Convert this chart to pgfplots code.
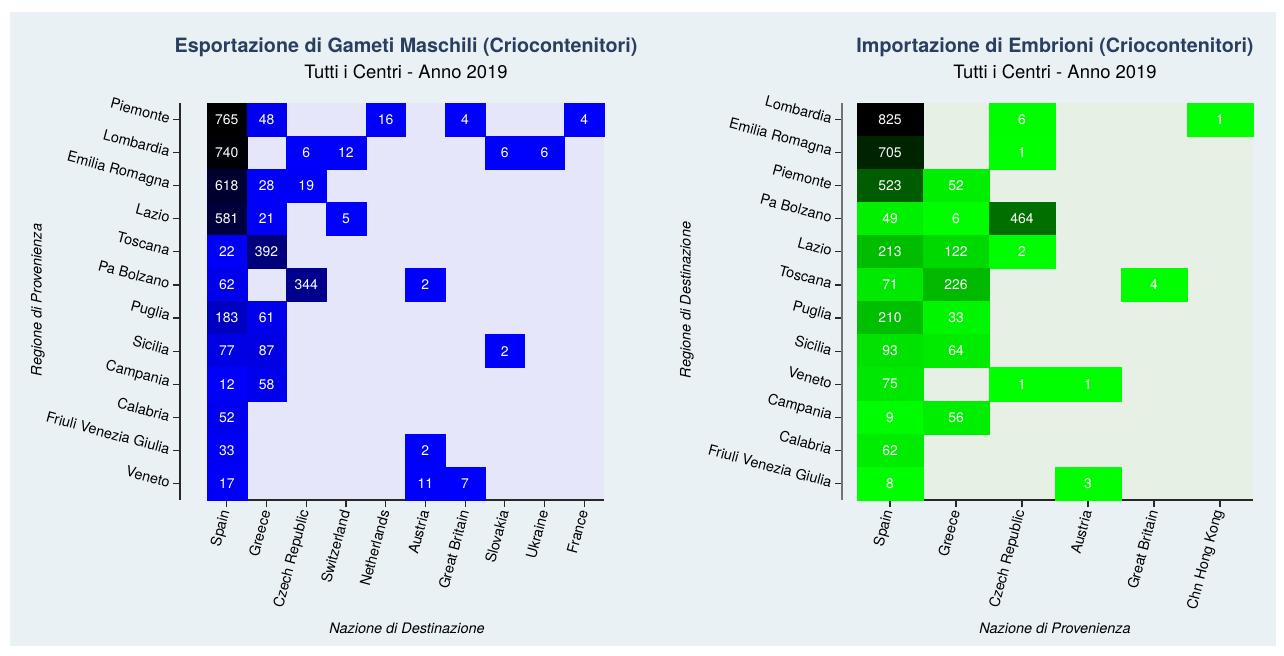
\documentclass[border=0pt]{standalone}
\usepackage{pgfplots}
\pgfplotsset{compat=1.18}
\usepackage{pgfplotstable}
\usepackage{fontspec}
\setmainfont{TeX Gyre Heros}

\definecolor{panelbg}{RGB}{234,241,244}
\definecolor{titlecol}{RGB}{42,63,95}
\definecolor{lavcell}{RGB}{230,230,250}
\definecolor{grncell}{RGB}{231,240,228}
\definecolor{spine}{RGB}{40,40,40}

\pgfplotsset{
  colormap={bluek}{rgb255(0cm)=(0,0,255); rgb255(1cm)=(0,0,0)},
  colormap={greenk}{rgb255(0cm)=(0,255,0); rgb255(1cm)=(0,0,0)},
}

% one heatmap cell, size = axis width / columns, axis height / rows
\pgfdeclareplotmark{cellL}{\pgfpathrectangle{\pgfpoint{-19.85bp}{-16.54bp}}{\pgfpoint{39.7bp}{33.08bp}}\pgfusepathqfillstroke}
\pgfdeclareplotmark{cellR}{\pgfpathrectangle{\pgfpoint{-33bp}{-16.54bp}}{\pgfpoint{66bp}{33.08bp}}\pgfusepathqfillstroke}

% x = column, y = row counted from the bottom, v = count
\pgfplotstableread{
x y v
0 11 765
1 11 48
4 11 16
6 11 4
9 11 4
0 10 740
2 10 6
3 10 12
7 10 6
8 10 6
0 9 618
1 9 28
2 9 19
0 8 581
1 8 21
3 8 5
0 7 22
1 7 392
0 6 62
2 6 344
5 6 2
0 5 183
1 5 61
0 4 77
1 4 87
7 4 2
0 3 12
1 3 58
0 2 52
0 1 33
5 1 2
0 0 17
5 0 11
6 0 7
}\expdata

\pgfplotstableread{
x y v
0 11 825
2 11 6
5 11 1
0 10 705
2 10 1
0 9 523
1 9 52
0 8 49
1 8 6
2 8 464
0 7 213
1 7 122
2 7 2
0 6 71
1 6 226
4 6 4
0 5 210
1 5 33
0 4 93
1 4 64
0 3 75
2 3 1
3 3 1
0 2 9
1 2 56
0 1 62
0 0 8
3 0 3
}\impdata

\pgfplotsset{
  heat/.style={
    scale only axis,
    height=397bp,
    ymin=-0.5, ymax=11.5,
    ytick={0,...,11},
    axis x line*=bottom,
    axis y line*=left,
    axis line style={-, spine, line width=1.2bp},
    tick align=outside,
    major tick length=7bp,
    tick style={spine, line width=1.1bp},
    ticklabel style={font=\fontsize{14.5}{16}\selectfont},
    xticklabel style={rotate=75, anchor=east},
    yticklabel style={rotate=-15, anchor=east},
    /pgf/number format/assume math mode=true,
  },
  cells/.style={
    scatter, only marks,
    point meta=explicit,
    scatter/use mapped color={draw=mapped color, fill=mapped color},
  },
  counts/.style={
    only marks, mark=none,
    point meta=explicit,
    nodes near coords,
    nodes near coords style={anchor=center, text=white, font=\fontsize{14}{16}\selectfont},
  },
}

\begin{document}
\begin{tikzpicture}
\fill[white] (0bp,0bp) rectangle (1284bp,656bp);
\fill[panelbg] (10bp,10bp) rectangle (1276bp,644bp);

% left: exports
\begin{axis}[heat,
  at={(207bp,156bp)}, anchor=south west,
  width=397bp,
  xmin=-0.5, xmax=9.5,
  xtick={0,...,9},
  xticklabels={Spain,Greece,Czech Republic,Switzerland,Netherlands,Austria,Great Britain,Slovakia,Ukraine,France},
  yticklabels={Veneto,Friuli Venezia Giulia,Calabria,Campania,Sicilia,Puglia,Pa Bolzano,Toscana,Lazio,Emilia Romagna,Lombardia,Piemonte},
  axis y line shift=27bp,
  axis background/.style={fill=lavcell},
  colormap name=bluek,
  point meta min=0, point meta max=765,
]
\addplot[cells, mark=cellL] table[x=x, y=y, meta=v] {\expdata};
\addplot[counts] table[x=x, y=y, meta=v] {\expdata};
\end{axis}

% right: imports
\begin{axis}[heat,
  at={(857bp,156bp)}, anchor=south west,
  width=396bp,
  xmin=-0.5, xmax=5.5,
  xtick={0,...,5},
  xticklabels={Spain,Greece,Czech Republic,Austria,Great Britain,Chn Hong Kong},
  yticklabels={Friuli Venezia Giulia,Calabria,Campania,Veneto,Sicilia,Puglia,Toscana,Lazio,Pa Bolzano,Piemonte,Emilia Romagna,Lombardia},
  axis y line shift=15bp,
  y axis line style={black!55},
  axis background/.style={fill=grncell},
  colormap name=greenk,
  point meta min=0, point meta max=825,
]
\addplot[cells, mark=cellR] table[x=x, y=y, meta=v] {\impdata};
\addplot[counts] table[x=x, y=y, meta=v] {\impdata};
\end{axis}

% titles
\node[font=\bfseries\fontsize{19.8}{22}\selectfont, text=titlecol] at (406bp,609bp) {Esportazione di Gameti Maschili (Criocontenitori)};
\node[font=\fontsize{18.5}{20}\selectfont] at (406bp,584bp) {Tutti i Centri - Anno 2019};
\node[font=\bfseries\fontsize{19.8}{22}\selectfont, text=titlecol] at (1055bp,609bp) {Importazione di Embrioni (Criocontenitori)};
\node[font=\fontsize{18.5}{20}\selectfont] at (1055bp,584bp) {Tutti i Centri - Anno 2019};

% axis titles
\node[font=\itshape\fontsize{14.5}{16}\selectfont, rotate=90] at (38bp,356bp) {Regione di Provenienza};
\node[font=\itshape\fontsize{14.5}{16}\selectfont] at (407bp,28bp) {Nazione di Destinazione};
\node[font=\itshape\fontsize{14.5}{16}\selectfont, rotate=90] at (687bp,356bp) {Regione di Destinazione};
\node[font=\itshape\fontsize{14.5}{16}\selectfont] at (1055bp,28bp) {Nazione di Provenienza};
\end{tikzpicture}
\end{document}
